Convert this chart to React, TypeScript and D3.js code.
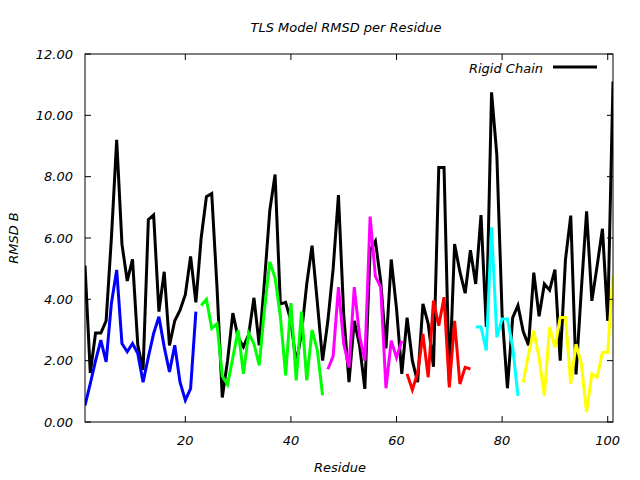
import React from "react";
import * as d3 from "d3";

const residues: number[] = d3.range(1, 102);

const rigidChain: number[] = [
  5.1, 1.6, 2.9, 2.9, 3.3, 6.0, 9.2, 5.8, 4.6, 5.3,
  2.5, 1.7, 6.6, 6.75, 3.6, 4.9, 2.5, 3.3, 3.65, 4.15,
  5.4, 3.9, 6.0, 7.35, 7.45, 4.4, 0.8, 2.0, 3.55, 2.75,
  2.45, 2.85, 4.05, 2.5, 4.6, 6.9, 8.07, 3.85, 3.9, 3.3,
  1.9, 2.9, 4.5, 5.75, 3.9, 2.0, 3.3, 5.0, 7.4, 3.5,
  1.3, 3.3, 2.5, 1.08, 5.6, 5.9, 4.6, 2.4, 5.3, 3.7,
  1.57, 3.4, 2.0, 1.3, 3.85, 3.2, 1.8, 8.3, 8.3, 1.3,
  5.8, 4.9, 4.2, 5.6, 4.5, 6.75, 3.1, 10.75, 8.7, 3.5,
  1.1, 3.4, 3.8, 2.95, 2.5, 4.87, 3.45, 4.5, 4.3, 4.97,
  2.0, 5.3, 6.73, 1.55, 4.3, 6.87, 3.95, 5.1, 6.3, 3.3,
  11.1,
];

const blueStart = 1;
const blueValues: number[] = [0.54, 1.25, 2.0, 2.67, 1.96, 3.87, 4.96, 2.56, 2.29, 2.56, 2.23, 1.3, 2.12, 2.89, 3.43, 2.45, 1.63, 2.5, 1.3, 0.71, 1.09, 3.6];
const greenStart = 23;
const greenValues: number[] = [3.8, 4.0, 3.05, 3.2, 1.5, 1.22, 2.1, 3.0, 1.57, 2.9, 2.55, 1.85, 3.7, 5.22, 4.7, 3.45, 1.52, 3.88, 1.36, 3.6, 1.36, 3.0, 2.34, 0.87];
const magentaStart = 47;
const magentaValues: number[] = [1.72, 2.15, 4.4, 2.55, 1.78, 4.4, 2.8, 2.0, 6.7, 4.75, 4.4, 1.1, 2.65, 2.1, 2.65];
const redStart = 62;
const redValues: number[] = [1.57, 1.05, 1.6, 2.87, 1.46, 3.96, 3.14, 4.07, 1.13, 3.3, 1.24, 1.78, 1.73];
const cyanStart = 75;
const cyanValues: number[] = [3.1, 3.1, 2.33, 6.35, 2.76, 3.36, 3.36, 2.45, 0.85];
const yellowStart = 84;
const yellowValues: number[] = [1.29, 2.2, 2.98, 2.1, 0.86, 3.09, 2.43, 3.41, 3.41, 1.24, 2.54, 1.9, 0.32, 1.57, 1.46, 2.27, 2.27, 4.8];

const xTicks: number[] = [20, 40, 60, 80, 100];
const yTicks: number[] = [0, 2, 4, 6, 8, 10, 12];

const segments = [
  { start: blueStart, values: blueValues, color: "#0000ff" },
  { start: greenStart, values: greenValues, color: "#00ff00" },
  { start: magentaStart, values: magentaValues, color: "#ff00ff" },
  { start: redStart, values: redValues, color: "#ff0000" },
  { start: cyanStart, values: cyanValues, color: "#00ffff" },
  { start: yellowStart, values: yellowValues, color: "#ffff00" },
];

const W = 640, H = 480;
const L = 85, R = 613, T = 54, B = 422;
const FONT = "'DejaVu Sans', sans-serif";

export default function App() {
  const x = d3.scaleLinear().domain([1, 101]).range([L, R]);
  const y = d3.scaleLinear().domain([0, 12]).range([B, T]);
  const line = d3.line<[number, number]>().x(d => x(d[0])).y(d => y(d[1]));
  const blackPts: [number, number][] = residues.map((r, i) => [r, rigidChain[i]]);
  const tl = 6;
  return (
    <div style={{ position: "fixed", left: 0, top: 0 }}>
      <svg width={W} height={H} style={{ display: "block", background: "#fff" }} fontFamily={FONT} fontStyle="italic">
        <defs>
          <clipPath id="plot"><rect x={L} y={T} width={R - L} height={B - T} /></clipPath>
        </defs>
        <g clipPath="url(#plot)">
          <path d={line(blackPts) || ""} fill="none" stroke="#000" strokeWidth={3} strokeLinejoin="miter" />
          {segments.map((s, k) => (
            <path key={k} d={line(s.values.map((v, i) => [s.start + i, v] as [number, number])) || ""} fill="none" stroke={s.color} strokeWidth={3} />
          ))}
        </g>
        <rect x={L} y={T} width={R - L} height={B - T} fill="none" stroke="#000" strokeWidth={1} />
        {yTicks.map(t => (
          <g key={"y" + t}>
            <line x1={L} x2={L + tl} y1={y(t)} y2={y(t)} stroke="#000" />
            <line x1={R} x2={R - tl} y1={y(t)} y2={y(t)} stroke="#000" />
            <text x={L - 12} y={y(t)} dy="0.35em" textAnchor="end" fontSize={13} fill="#000">{t.toFixed(2)}</text>
          </g>
        ))}
        {xTicks.map(t => (
          <g key={"x" + t}>
            <line x1={x(t)} x2={x(t)} y1={B} y2={B - tl} stroke="#000" />
            <line x1={x(t)} x2={x(t)} y1={T} y2={T + tl} stroke="#000" />
            <text x={x(t)} y={B + 18} dy="0.35em" textAnchor="middle" fontSize={13} fill="#000">{t}</text>
          </g>
        ))}
        <text x={(L + R) / 2 - 3} y={27} dy="0.35em" textAnchor="middle" fontSize={13} fill="#000">TLS Model RMSD per Residue</text>
        <text x={(L + R) / 2 - 9} y={467} dy="0.35em" textAnchor="middle" fontSize={13} fill="#000">Residue</text>
        <text transform={`translate(13,${(T + B) / 2}) rotate(-90)`} dy="0.35em" textAnchor="middle" fontSize={13} fill="#000">RMSD B</text>
        <text x={543} y={68} dy="0.35em" textAnchor="end" fontSize={13} fill="#000">Rigid Chain</text>
        <line x1={553} x2={597} y1={67} y2={67} stroke="#000" strokeWidth={3} />
      </svg>
    </div>
  );
}
